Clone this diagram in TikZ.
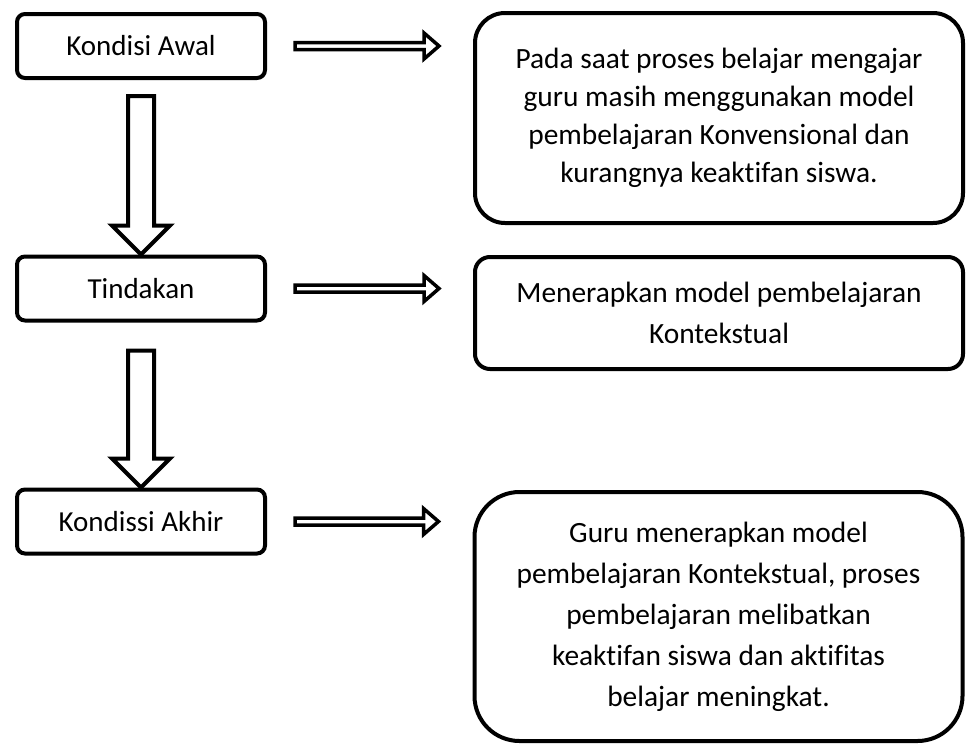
\documentclass[tikz,border=0pt]{standalone}
\usepackage{fontspec}
\setmainfont{Carlito}[Ligatures={NoCommon}]
\usetikzlibrary{calc}

\tikzset{
  leftbox/.style={draw,line width=4pt,rounded corners=8pt,%
    minimum width=248pt,minimum height=64pt,align=center,
    font=\fontsize{29}{35}\selectfont},
  rightbox/.style={draw,line width=4pt,minimum width=488pt,align=center,
    font=\fontsize{29.4}{41}\selectfont},
  % hollow block arrows
  downarrow/.style={draw,line width=4pt,fill=white,line join=miter,
    to path={($(\tikztostart)+(-13,0)$) -- ($(\tikztotarget)+(-13,-29)$)
      -- ($(\tikztotarget)+(-29,-29)$) -- (\tikztotarget)
      -- ($(\tikztotarget)+(29,-29)$) -- ($(\tikztotarget)+(13,-29)$)
      -- ($(\tikztostart)+(13,0)$) -- cycle}},
  rightarrow/.style={draw,line width=3.5pt,fill=white,line join=miter,
    to path={($(\tikztostart)+(0,-3.5)$) -- ($(\tikztotarget)+(-15,-3.5)$)
      -- ($(\tikztotarget)+(-15,-13)$) -- (\tikztotarget)
      -- ($(\tikztotarget)+(-15,13)$) -- ($(\tikztotarget)+(-15,3.5)$)
      -- ($(\tikztostart)+(0,3.5)$) -- cycle}}
}

\begin{document}
\begin{tikzpicture}[x=1pt,y=-1pt]
\useasboundingbox (0,0) rectangle (966,745);

% left column
\node[leftbox] (awal) at (141,46) {Kondisi Awal};
\node[leftbox] (tind) at (141,288.5) {Tindakan};
\node[leftbox] (akhir) at (141,521.5) {Kondissi Akhir};

% right column
\node[rightbox,rounded corners=30pt,minimum height=210pt,
  font=\fontsize{29.4}{38}\selectfont] (ketA) at (719,118)
  {Pada saat proses belajar mengajar\\guru masih menggunakan model\\
   pembelajaran Konvensional dan\\kurangnya keaktifan siswa.};
\node[rightbox,rounded corners=15pt,minimum height=112pt] (ketB) at (719,313)
  {Menerapkan model pembelajaran\\Kontekstual};
\node[rightbox,rounded corners=45pt,minimum height=249pt] (ketC) at (718.5,616.5)
  {Guru menerapkan model\\pembelajaran Kontekstual, proses\\
   pembelajaran melibatkan\\keaktifan siswa dan aktifitas\\belajar meningkat.};

% arrows
\draw[downarrow] ([yshift=-16pt]awal.south) to (tind.north);
\draw[downarrow] ([yshift=-28pt]tind.south) to (akhir.north);
\draw[rightarrow] ([xshift=28pt]awal.east) to ($(awal.east -| ketA.west)+(-34,0)$);
\draw[rightarrow] ([xshift=28pt]tind.east) to ($(tind.east -| ketB.west)+(-34,0)$);
\draw[rightarrow] ([xshift=28pt]akhir.east) to ($(akhir.east -| ketC.west)+(-34,0)$);
\end{tikzpicture}
\end{document}
